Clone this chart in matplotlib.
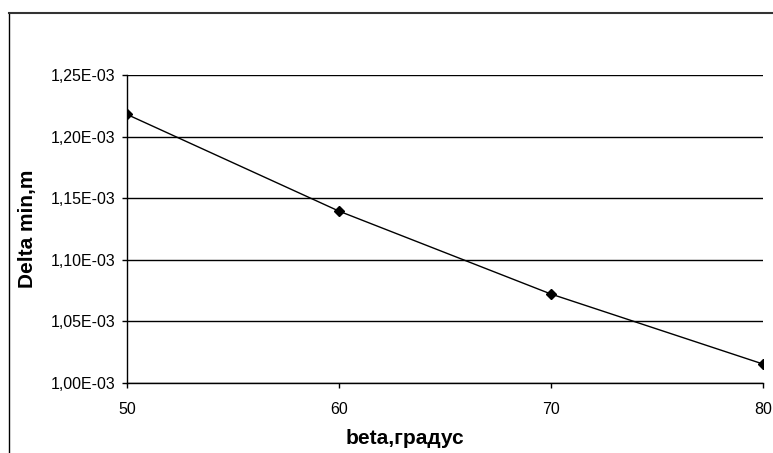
import matplotlib.pyplot as plt
from matplotlib.ticker import FuncFormatter
from matplotlib.lines import Line2D

beta = [50, 60, 70, 80]
delta_min = [1.218e-3, 1.1395e-3, 1.0722e-3, 1.0154e-3]
y_ticks = [1.00e-3, 1.05e-3, 1.10e-3, 1.15e-3, 1.20e-3, 1.25e-3]

plt.rcParams['font.family'] = ['Liberation Sans', 'DejaVu Sans']

fig = plt.figure(figsize=(7.73, 4.53), dpi=100)
ax = fig.add_axes([127 / 773, 70 / 453, 636 / 773, 308 / 453])

# outer chart border (extends off the right and bottom edges)
fig.add_artist(Line2D([9 / 773, 9 / 773], [0, 440 / 453], color='black', lw=1.0))
fig.add_artist(Line2D([9 / 773, 1], [440 / 453, 440 / 453], color='#333333', lw=1.5))

ax.plot(beta, delta_min, color='black', lw=1.0, marker='D', markersize=5.5)

ax.set_xlim(50, 80)
ax.set_ylim(1.00e-3, 1.25e-3)
ax.set_xticks(beta)
ax.set_yticks(y_ticks)
ax.yaxis.set_major_formatter(FuncFormatter(lambda v, p: f'{v:.2E}'.replace('.', ',')))
ax.grid(axis='y', color='black', lw=1.0)
ax.set_axisbelow(True)

for s in ['top', 'right']:
    ax.spines[s].set_visible(False)
ax.spines['left'].set_linewidth(1.0)
ax.spines['bottom'].set_linewidth(1.0)
ax.tick_params(direction='out', length=3.6, width=1, labelsize=11.5)
ax.tick_params(axis='y', pad=5)
ax.tick_params(axis='x', pad=10)

ax.set_xlabel('beta,градус', fontsize=15, fontweight='bold', va='center')
ax.set_ylabel('Delta min,m', fontsize=15, fontweight='bold', va='center')
ax.xaxis.set_label_coords(0.437, -0.179)
ax.yaxis.set_label_coords(-0.156, 0.5)

fig.savefig('out.png', dpi=100)
